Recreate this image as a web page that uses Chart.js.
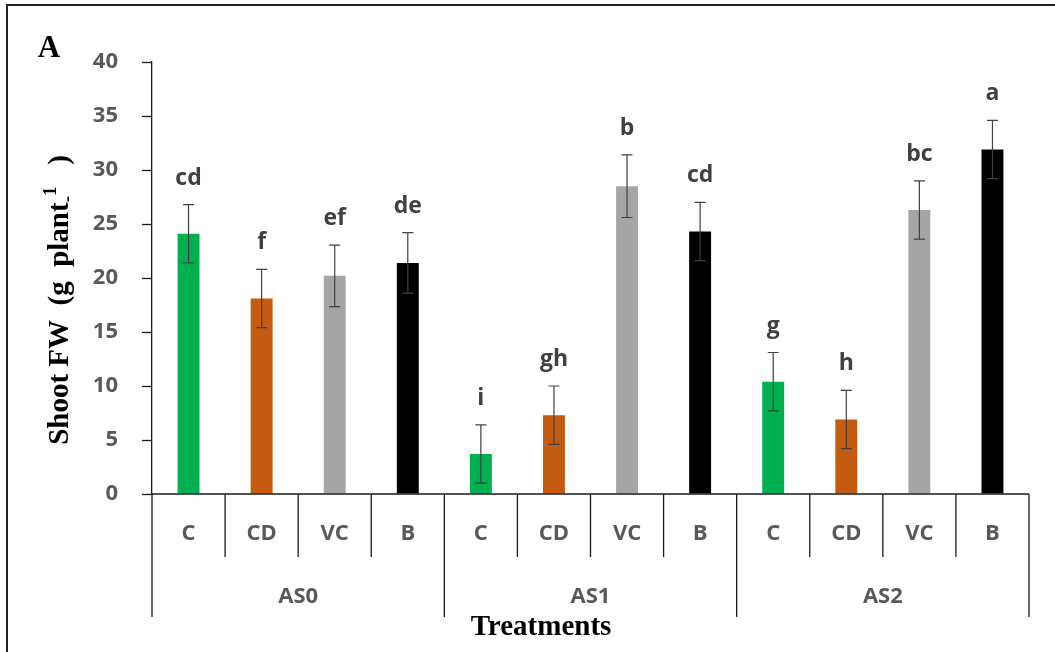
<!DOCTYPE html>
<html>
<head>
<meta charset="utf-8">
<script src="https://cdn.jsdelivr.net/npm/chart.js@4.4.0/dist/chart.umd.min.js"></script>
<style>
  html, body { margin: 0; padding: 0; background: #fff; }
  #chart { display: block; }
</style>
</head>
<body>
<canvas id="chart" width="1055" height="652"></canvas>
<script>
// Data (shoot fresh weight, g plant-1)
const groups = ['AS0', 'AS1', 'AS2'];
const treatments = ['C', 'CD', 'VC', 'B'];
const shootFW = [24.1, 18.1, 20.2, 21.4, 3.7, 7.3, 28.5, 24.3, 10.4, 6.9, 26.3, 31.9];
const errors = [2.7, 2.7, 2.85, 2.8, 2.7, 2.7, 2.9, 2.7, 2.7, 2.7, 2.7, 2.7];
const letters = ['cd', 'f', 'ef', 'de', 'i', 'gh', 'b', 'cd', 'g', 'h', 'bc', 'a'];
const yTicks = [0, 5, 10, 15, 20, 25, 30, 35, 40];

const treatmentColors = ['#00b050', '#c55a11', '#a5a5a5', '#000000'];
const sansFamily = '"Open Sans", Lato, sans-serif';
const serifBold = '"Liberation Serif", "Times New Roman", serif';

const labels = groups.flatMap(g => treatments.map(t => g + ' ' + t));

const decorations = {
    id: 'decorations',
    beforeDraw(chart) {
        const ctx = chart.ctx;
        ctx.save();
        ctx.fillStyle = '#fff';
        ctx.fillRect(0, 0, chart.width, chart.height);
        ctx.restore();
    },
    afterDatasetsDraw(chart) {
        const { ctx, scales: { y } } = chart;
        const meta = chart.getDatasetMeta(0);
        ctx.save();
        // error bars + significance letters
        meta.data.forEach((bar, i) => {
            const top = y.getPixelForValue(shootFW[i] + errors[i]);
            const bot = y.getPixelForValue(shootFW[i] - errors[i]);
            ctx.strokeStyle = '#404040';
            ctx.lineWidth = 1.2;
            ctx.beginPath();
            ctx.moveTo(bar.x, top);
            ctx.lineTo(bar.x, bot);
            ctx.moveTo(bar.x - 5.5, top);
            ctx.lineTo(bar.x + 5.5, top);
            ctx.moveTo(bar.x - 5.5, bot);
            ctx.lineTo(bar.x + 5.5, bot);
            ctx.stroke();

            ctx.fillStyle = '#404040';
            ctx.font = 'bold 23px ' + sansFamily;
            ctx.textAlign = 'center';
            ctx.textBaseline = 'alphabetic';
            ctx.fillText(letters[i], bar.x, top - 20);
        });
        ctx.restore();
    },
    afterDraw(chart) {
        const { ctx, chartArea, scales: { x } } = chart;
        const base = chartArea.bottom;
        const n = labels.length;
        ctx.save();

        // x axis line
        ctx.strokeStyle = '#1a1a1a';
        ctx.lineWidth = 1.3;
        ctx.beginPath();
        ctx.moveTo(chartArea.left, base);
        ctx.lineTo(chartArea.right, base);
        ctx.stroke();

        // category dividers (short) and group dividers (long)
        for (let i = 0; i <= n; i++) {
            let px;
            if (i === 0) px = chartArea.left;
            else if (i === n) px = chartArea.right;
            else px = (x.getPixelForValue(i - 1) + x.getPixelForValue(i)) / 2;
            const long = i % treatments.length === 0;
            ctx.beginPath();
            ctx.moveTo(px, base);
            ctx.lineTo(px, base + (long ? 123 : 63));
            ctx.stroke();
        }

        // treatment labels
        ctx.fillStyle = '#595959';
        ctx.font = 'bold 22px ' + sansFamily;
        ctx.textAlign = 'center';
        ctx.textBaseline = 'middle';
        for (let i = 0; i < n; i++) {
            ctx.fillText(treatments[i % treatments.length], x.getPixelForValue(i), base + 40);
        }
        // group labels
        groups.forEach((g, gi) => {
            const first = x.getPixelForValue(gi * treatments.length);
            const last = x.getPixelForValue(gi * treatments.length + treatments.length - 1);
            ctx.fillText(g, (first + last) / 2, base + 103);
        });

        // x title
        ctx.fillStyle = '#000';
        ctx.font = 'bold 29px ' + serifBold;
        ctx.fillText('Treatments', 541, 628);

        // panel letter
        ctx.font = 'bold 31px ' + serifBold;
        ctx.fillText('A', 49, 49);

        // y title with sub/superscript
        ctx.translate(61, 300);
        ctx.rotate(-Math.PI / 2);
        const parts = [
            { t: 'Shoot FW  (g  plant', size: 29, dy: 0 },
            { t: '-', size: 19, dy: 7 },
            { t: '1', size: 19, dy: -10 },
            { t: '   )', size: 29, dy: 0 }
        ];
        let total = 0;
        parts.forEach(p => {
            ctx.font = 'bold ' + p.size + 'px ' + serifBold;
            p.w = ctx.measureText(p.t).width;
            total += p.w;
        });
        let cx = -total / 2;
        ctx.textAlign = 'left';
        ctx.textBaseline = 'middle';
        parts.forEach(p => {
            ctx.font = 'bold ' + p.size + 'px ' + serifBold;
            ctx.fillText(p.t, cx, p.dy);
            cx += p.w;
        });
        ctx.setTransform(1, 0, 0, 1, 0, 0);

        // image frame
        ctx.strokeStyle = '#222';
        ctx.lineWidth = 2;
        ctx.strokeRect(7, 5, 1200, 800);
        ctx.restore();
    }
};

new Chart(document.getElementById('chart'), {
    type: 'bar',
    data: {
        labels: labels,
        datasets: [{
            label: 'Shoot FW',
            data: shootFW,
            backgroundColor: labels.map((_, i) => treatmentColors[i % treatmentColors.length]),
            borderWidth: 0,
            categoryPercentage: 1,
            barPercentage: 0.3
        }]
    },
    options: {
        responsive: false,
        animation: false,
        devicePixelRatio: 1,
        layout: {
            padding: { left: 0, right: 26, top: 62, bottom: 158 }
        },
        plugins: {
            legend: { display: false },
            tooltip: { enabled: false }
        },
        scales: {
            x: {
                type: 'category',
                display: false,
                offset: true
            },
            y: {
                min: 0,
                max: 40,
                afterBuildTicks(scale) {
                    scale.ticks = yTicks.map(v => ({ value: v }));
                },
                afterFit(scale) {
                    scale.width = 152;
                },
                grid: {
                    drawOnChartArea: false,
                    drawTicks: true,
                    tickLength: 10,
                    tickColor: '#1a1a1a',
                    tickWidth: 1.3
                },
                border: { display: true, color: '#1a1a1a', width: 1.3 },
                ticks: {
                    color: '#595959',
                    font: { family: sansFamily, size: 22, weight: 'bold' },
                    padding: 24
                }
            }
        }
    },
    plugins: [decorations]
});
</script>
</body>
</html>
